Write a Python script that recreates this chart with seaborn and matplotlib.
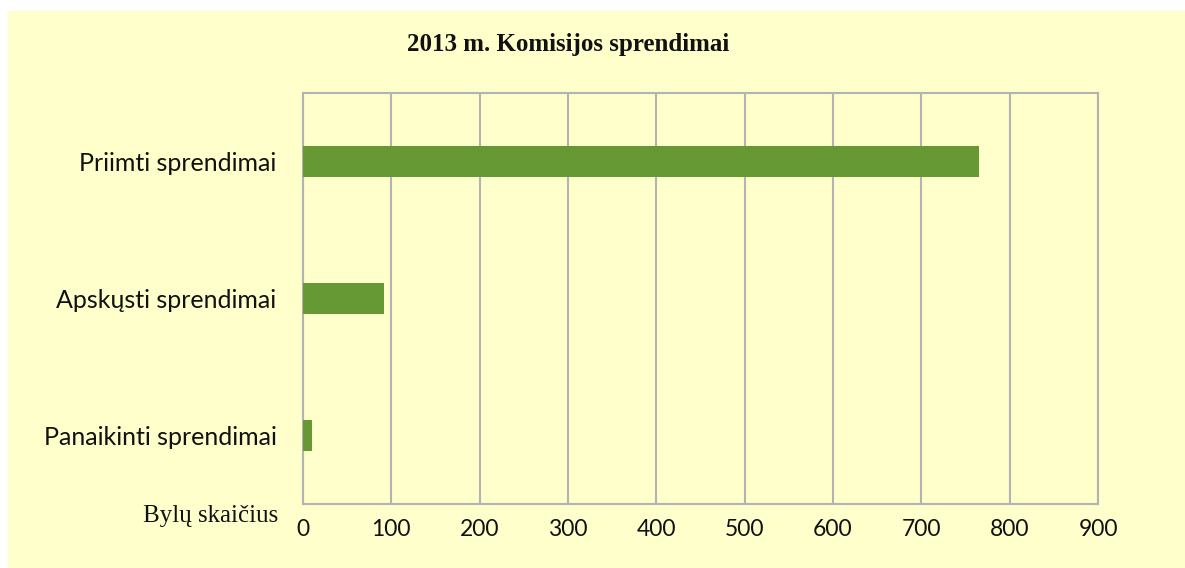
import matplotlib
matplotlib.use('Agg')
import matplotlib.pyplot as plt
from matplotlib.patches import Rectangle
import seaborn as sns
import pandas as pd

categories = ['Priimti sprendimai', 'Apskųsti sprendimai', 'Panaikinti sprendimai']
values = [765, 92, 10]
x_ticks = [0, 100, 200, 300, 400, 500, 600, 700, 800, 900]

bg = '#FFFFCC'
bar_color = '#669933'
grid_color = '#B3B3B3'

sns.set_style('white')
plt.rcParams['font.family'] = ['Lato', 'DejaVu Sans']

df = pd.DataFrame({'kategorija': categories, 'bylos': values})

fig = plt.figure(figsize=(11.85, 5.68), dpi=100, facecolor='white')
fig.patches.append(Rectangle((8 / 1185, 0), 1, 1 - 11 / 568,
                             transform=fig.transFigure, facecolor=bg,
                             edgecolor='none', zorder=-10))
ax = fig.add_axes([303 / 1185, 1 - 504 / 568, 795 / 1185, 411 / 568])
ax.set_facecolor(bg)

sns.barplot(data=df, x='bylos', y='kategorija', orient='h', color=bar_color,
            saturation=1, width=0.226, linewidth=0, ax=ax, zorder=3)

ax.set_xlim(0, 900)
ax.set_xticks(x_ticks)
ax.set_xticklabels([str(t) for t in x_ticks], fontsize=16.5, color='#111111')
ax.tick_params(axis='x', length=0, pad=11)
ax.tick_params(axis='y', length=0, pad=19, labelsize=18, labelcolor='#111111')
ax.grid(axis='x', color=grid_color, linewidth=1.5, zorder=0)
ax.set_axisbelow(True)
for s in ax.spines.values():
    s.set_visible(True)
    s.set_color(grid_color)
    s.set_linewidth(1.5)
ax.set_xlabel('')
ax.set_ylabel('')

fig.text(568 / 1185, 1 - 44 / 568, '2013 m. Komisijos sprendimai',
         ha='center', va='center', fontsize=18, fontweight='bold',
         family=['Liberation Serif', 'DejaVu Serif'], color='#111111')
fig.text(278 / 1185, 1 - 516 / 568, 'Bylų skaičius', ha='right', va='center',
         fontsize=18, family=['Liberation Serif', 'DejaVu Serif'], color='#111111')

fig.savefig('out.png', dpi=100, facecolor='white')
